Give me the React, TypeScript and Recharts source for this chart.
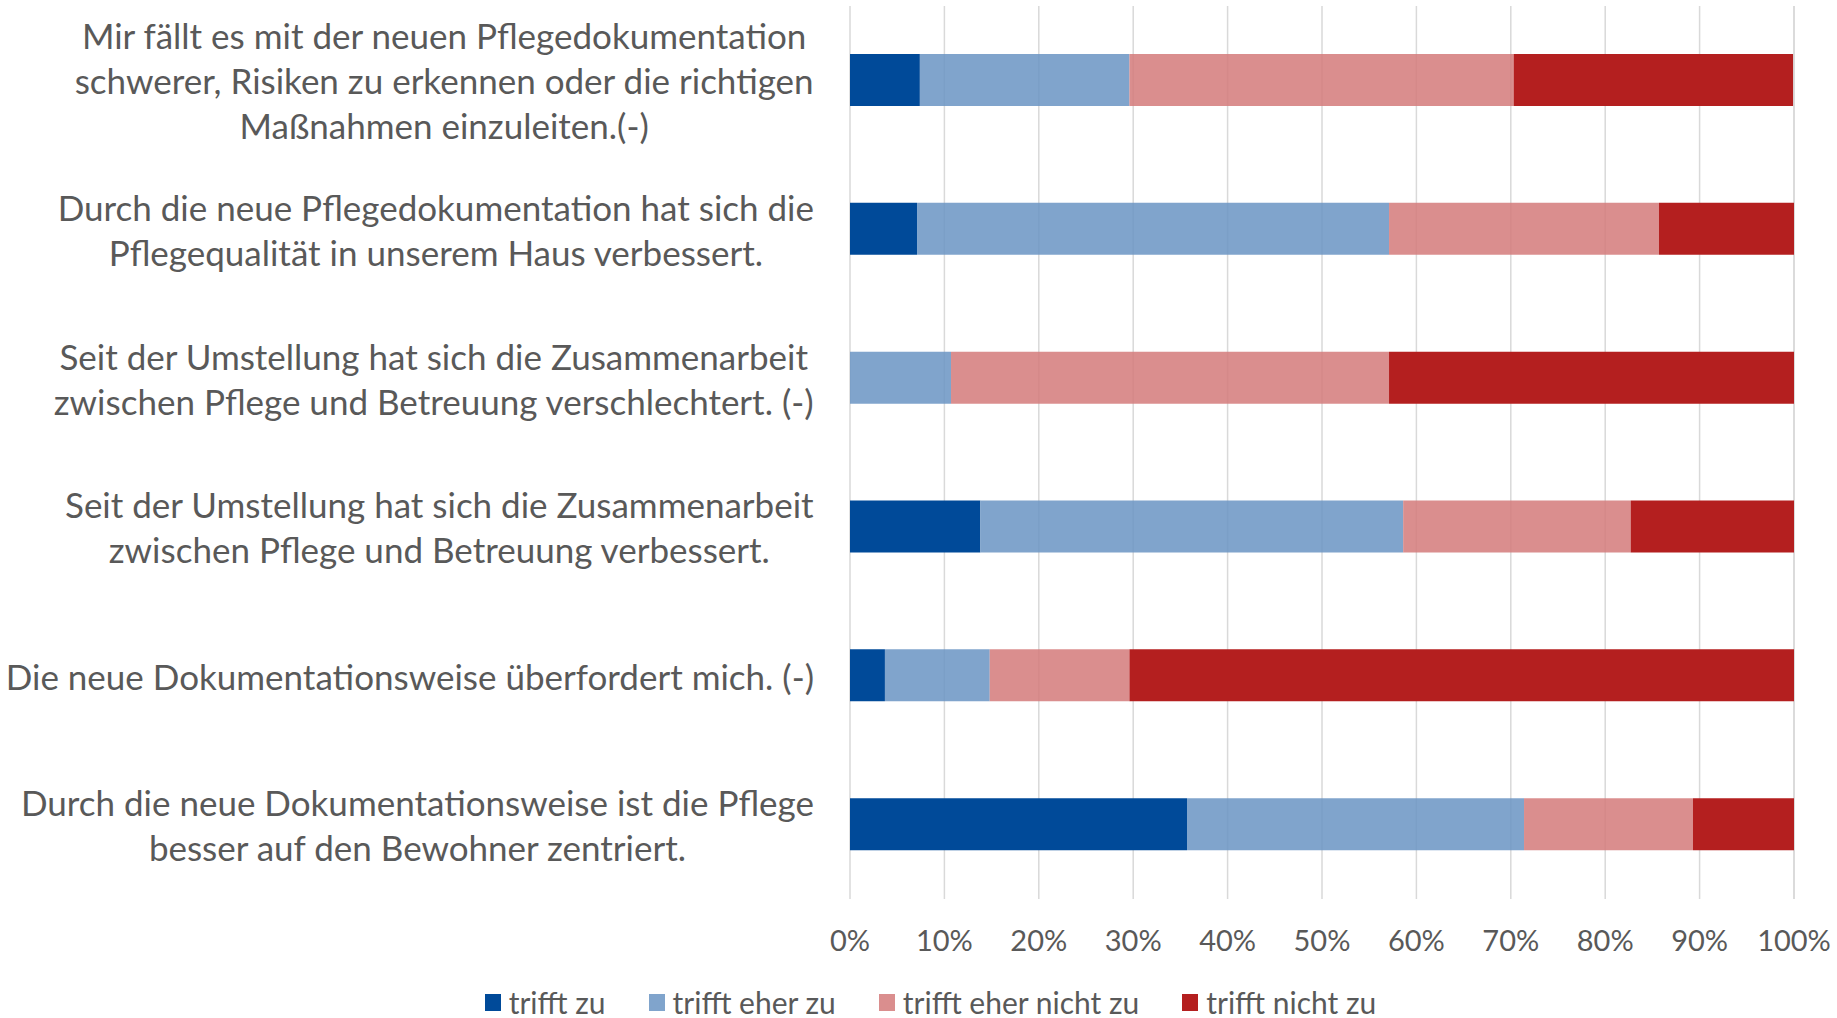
import React from "react";
import { BarChart, Bar, XAxis, YAxis, CartesianGrid, Legend } from "recharts";

// Aussagen (von oben nach unten), Zeilenumbrüche wie im Original
const statements = [
  "Mir fällt es mit der neuen Pflegedokumentation|schwerer, Risiken zu erkennen oder die richtigen|Maßnahmen einzuleiten.(-)",
  "Durch die neue Pflegedokumentation hat sich die|Pflegequalität in unserem Haus verbessert.",
  "Seit der Umstellung hat sich die Zusammenarbeit|zwischen Pflege und Betreuung verschlechtert. (-)",
  "Seit der Umstellung hat sich die Zusammenarbeit|zwischen Pflege und Betreuung verbessert.",
  "Die neue Dokumentationsweise überfordert mich. (-)",
  "Durch die neue Dokumentationsweise ist die Pflege|besser auf den Bewohner zentriert.",
];

// Anteile in %
const trifftZu = [7.4, 7.1, 0, 13.8, 3.7, 35.7];
const trifftEherZu = [22.2, 50.0, 10.7, 44.8, 11.1, 35.7];
const trifftEherNichtZu = [40.7, 28.6, 46.4, 24.1, 14.8, 17.9];
const trifftNichtZu = [29.6, 14.3, 42.9, 17.3, 70.4, 10.7];

const xTicks = [0, 10, 20, 30, 40, 50, 60, 70, 80, 90, 100];

const seriesNames = ["trifft zu", "trifft eher zu", "trifft eher nicht zu", "trifft nicht zu"];
const seriesColors = ["#004A99", "#6A94C3", "#D37A7A", "#B41F1F"];
const seriesOpacity = [1, 0.85, 0.85, 1];
const legendColors = ["#004A99", "#80A4CC", "#DA8E8E", "#B41F1F"];

const data = statements.map((name, i) => ({
  name,
  zu: trifftZu[i],
  eherZu: trifftEherZu[i],
  eherNicht: trifftEherNichtZu[i],
  nicht: trifftNichtZu[i],
}));

const FONT = "Lato";
const LABEL_SIZE = 35;
const TEXT = "#595959";

let ctx: CanvasRenderingContext2D | null = null;
function measure(s: string, size: number) {
  if (!ctx) ctx = document.createElement("canvas").getContext("2d");
  if (!ctx) return s.length * size * 0.5;
  ctx.font = `${size}px ${FONT}`;
  return ctx.measureText(s).width;
}

function CategoryTick(props: any) {
  const { x, y, payload } = props;
  const lines: string[] = String(payload.value).split("|");
  const maxW = Math.max(...lines.map((l) => measure(l, LABEL_SIZE)));
  const cx = x - 36 - maxW / 2;
  const lh = 45;
  const start = y - ((lines.length - 1) * lh) / 2;
  return (
    <text textAnchor="middle" fill={TEXT} fontFamily={FONT} fontSize={LABEL_SIZE}>
      {lines.map((l, i) => (
        <tspan key={i} x={cx} y={start + i * lh} dominantBaseline="central">
          {l}
        </tspan>
      ))}
    </text>
  );
}

function PercentTick(props: any) {
  const { x, y, payload } = props;
  return (
    <text x={x} y={y + 40} textAnchor="middle" dominantBaseline="central" fill={TEXT} fontFamily={FONT} fontSize={29}>
      {payload.value}%
    </text>
  );
}

function LegendContent() {
  return (
    <div style={{ display: "flex", justifyContent: "center", paddingLeft: 110, paddingTop: 17, lineHeight: "32px", fontFamily: FONT, fontSize: 30, color: TEXT }}>
      {seriesNames.map((n, i) => (
        <div key={n} style={{ display: "flex", alignItems: "center", marginRight: 43 }}>
          <span style={{ width: 16, height: 17, background: legendColors[i], marginRight: 8, display: "inline-block" }} />
          <span>{n}</span>
        </div>
      ))}
    </div>
  );
}

export default function App() {
  const keys = ["zu", "eherZu", "eherNicht", "nicht"];
  return (
    <div style={{ position: "absolute", left: 0, top: 0, background: "#fff" }}>
      <BarChart width={1837} height={1018} data={data} layout="vertical" margin={{ top: 6, right: 43, left: 0, bottom: 0 }}>
        <CartesianGrid horizontal={false} stroke="#D9D9D9" strokeWidth={1.5} />
        <XAxis type="number" domain={[0, 100]} ticks={xTicks} axisLine={false} tickLine={false} tickSize={0} tickMargin={0} height={70} tick={<PercentTick />} interval={0} />
        <YAxis type="category" dataKey="name" width={850} axisLine={false} tickLine={false} tickSize={0} tickMargin={0} tick={<CategoryTick />} interval={0} />
        <Legend verticalAlign="bottom" height={49} content={<LegendContent />} />
        {keys.map((k, i) => (
          <Bar key={k} dataKey={k} name={seriesNames[i]} stackId="a" fill={seriesColors[i]} fillOpacity={seriesOpacity[i]} barSize={52} isAnimationActive={false} />
        ))}
      </BarChart>
    </div>
  );
}
